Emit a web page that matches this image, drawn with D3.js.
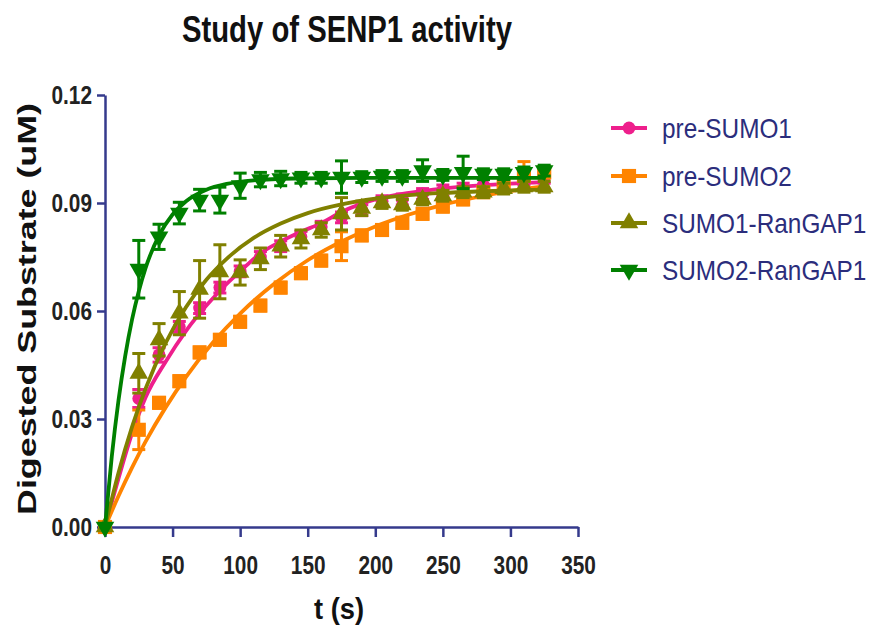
<!DOCTYPE html>
<html>
<head>
<meta charset="utf-8">
<script src="https://cdn.jsdelivr.net/npm/d3@7.9.0/dist/d3.min.js"></script>
<style>
  body { margin: 0; background: #fff; }
  svg { display: block; }
  text { font-family: "Liberation Sans", Arial, sans-serif; }
</style>
</head>
<body>
<div id="chart"></div>
<script>
// sampling times (s)
const times = [0, 25, 40, 55, 70, 85, 100, 115, 130, 145, 160, 175, 190, 205, 220, 235, 250, 265, 280, 295, 310, 325];

// measured means and error bars (uM)
const preSumo1 = [0, 0.0357, 0.0478, 0.0556, 0.0608, 0.0665, 0.071, 0.075, 0.078, 0.0806, 0.0834, 0.086, 0.088, 0.0905, 0.091, 0.0925, 0.0935, 0.094, 0.095, 0.0955, 0.0965, 0.097];
const preSumo1Err = [0, 0.0025, 0.002, 0.0015, 0.0015, 0.0015, 0.0015, 0.0015, 0.0015, 0.0015, 0.0015, 0.0015, 0.0015, 0.0015, 0.0015, 0.0015, 0.0015, 0.0015, 0.0015, 0.0015, 0.0015, 0.0015];

const preSumo2 = [0, 0.027, 0.0345, 0.0405, 0.0485, 0.052, 0.057, 0.0615, 0.0665, 0.0705, 0.074, 0.078, 0.081, 0.0825, 0.0845, 0.087, 0.089, 0.091, 0.093, 0.095, 0.0975, 0.0985];
const preSumo2Err = [0, 0.0055, 0.0015, 0.0015, 0.0015, 0.0015, 0.0015, 0.0015, 0.0015, 0.0015, 0.0015, 0.004, 0.0015, 0.0015, 0.0015, 0.0015, 0.0015, 0.0015, 0.0015, 0.0015, 0.004, 0.0015];

const sumo1RanGap = [0, 0.0427, 0.052, 0.0594, 0.066, 0.0709, 0.0707, 0.0745, 0.078, 0.08, 0.0825, 0.087, 0.0885, 0.09, 0.0895, 0.091, 0.092, 0.093, 0.093, 0.094, 0.0945, 0.0945];
const sumo1RanGapErr = [0, 0.0055, 0.0045, 0.006, 0.008, 0.0075, 0.0035, 0.003, 0.003, 0.0025, 0.002, 0.0045, 0.002, 0.0015, 0.0015, 0.0015, 0.0015, 0.0015, 0.0015, 0.0015, 0.0015, 0.0015];

const sumo2RanGap = [0, 0.0716, 0.0806, 0.0872, 0.0908, 0.0908, 0.0948, 0.0965, 0.0968, 0.097, 0.097, 0.0972, 0.0972, 0.0975, 0.0975, 0.099, 0.0978, 0.0985, 0.098, 0.098, 0.0985, 0.099];
const sumo2RanGapErr = [0, 0.008, 0.0035, 0.003, 0.003, 0.0036, 0.0035, 0.002, 0.002, 0.0015, 0.0015, 0.0045, 0.0015, 0.0015, 0.0015, 0.003, 0.0015, 0.0045, 0.0015, 0.0015, 0.0015, 0.0015];

// fitted curves
const preSumo1FitT = [0, 10, 20, 30, 45, 60, 75, 90, 100, 115, 130, 145, 160, 175, 200, 225, 250, 275, 300, 325];
const preSumo1FitV = [0, 0.0135, 0.026, 0.036, 0.046, 0.0545, 0.0615, 0.0675, 0.071, 0.076, 0.0793, 0.082, 0.0844, 0.0875, 0.091, 0.0928, 0.094, 0.0948, 0.0954, 0.0958];

const preSumo2FitT = [0, 10, 20, 30, 45, 60, 80, 100, 125, 150, 175, 200, 225, 250, 275, 300, 325];
const preSumo2FitV = [0, 0.0086, 0.0165, 0.0237, 0.0333, 0.0417, 0.0513, 0.0593, 0.0675, 0.0741, 0.0793, 0.0835, 0.0868, 0.0895, 0.0916, 0.0933, 0.0946];

const sumo1RanGapFitT = [0, 10, 20, 30, 45, 60, 75, 90, 110, 130, 150, 175, 200, 225, 250, 275, 300, 325];
const sumo1RanGapFitV = [0, 0.0151, 0.0278, 0.0384, 0.0512, 0.0611, 0.0687, 0.0745, 0.0803, 0.0843, 0.0872, 0.0896, 0.0912, 0.0922, 0.0928, 0.0932, 0.0935, 0.0937];

const sumo2RanGapFitT = [0, 5, 10, 15, 20, 25, 30, 40, 50, 60, 75, 90, 110, 140, 200, 325];
const sumo2RanGapFitV = [0, 0.0195, 0.0352, 0.0476, 0.0576, 0.0655, 0.0719, 0.081, 0.0868, 0.0905, 0.0937, 0.0953, 0.0963, 0.0968, 0.097, 0.097];

const seriesNames = ['pre-SUMO1', 'pre-SUMO2', 'SUMO1-RanGAP1', 'SUMO2-RanGAP1'];
const xTicks = [0, 50, 100, 150, 200, 250, 300, 350];
const yTicks = [0, 0.03, 0.06, 0.09, 0.12];

const colors = ['#ee1f8c', '#ff8400', '#808000', '#008000'];
const axisColor = '#353a8c';

const series = [
  { name: seriesNames[0], values: preSumo1, err: preSumo1Err, fitT: preSumo1FitT, fitV: preSumo1FitV, color: colors[0], symbol: d3.symbolCircle, size: 130, rotate: 0 },
  { name: seriesNames[1], values: preSumo2, err: preSumo2Err, fitT: preSumo2FitT, fitV: preSumo2FitV, color: colors[1], symbol: d3.symbolSquare, size: 200, rotate: 0 },
  { name: seriesNames[2], values: sumo1RanGap, err: sumo1RanGapErr, fitT: sumo1RanGapFitT, fitV: sumo1RanGapFitV, color: colors[2], symbol: d3.symbolTriangle, size: 150, rotate: 0 },
  { name: seriesNames[3], values: sumo2RanGap, err: sumo2RanGapErr, fitT: sumo2RanGapFitT, fitV: sumo2RanGapFitV, color: colors[3], symbol: d3.symbolTriangle, size: 150, rotate: 180 },
];

const width = 875, height = 627;
const plot = { left: 105, right: 578, top: 95, bottom: 527 };

const svg = d3.select('#chart').append('svg')
  .attr('width', width)
  .attr('height', height);

const x = d3.scaleLinear().domain([0, 350]).range([plot.left, plot.right]);
const y = d3.scaleLinear().domain([0, 0.12]).range([plot.bottom, plot.top]);

// squeeze text horizontally, the source picture is narrow
function squeeze(sel, k) {
  sel.each(function () {
    const w = this.getComputedTextLength();
    this.setAttribute('textLength', w * k);
    this.setAttribute('lengthAdjust', 'spacingAndGlyphs');
  });
}

// axes
const yAxis = svg.append('g')
  .attr('transform', `translate(${plot.left},0)`)
  .call(d3.axisLeft(y).tickValues(yTicks).tickFormat(d3.format('.2f')).tickSize(8).tickSizeOuter(0).tickPadding(5));

const xAxis = svg.append('g')
  .attr('transform', `translate(0,${plot.bottom})`)
  .call(d3.axisBottom(x).tickValues(xTicks).tickSize(10).tickSizeOuter(0));

[yAxis, xAxis].forEach((g) => {
  g.select('.domain').attr('stroke', axisColor).attr('stroke-width', 2.5);
  g.selectAll('.tick line').attr('stroke', axisColor).attr('stroke-width', 2.5);
  g.selectAll('.tick text')
    .attr('fill', '#222')
    .style('font-size', '26px')
    .style('font-weight', 'bold');
});
xAxis.selectAll('.tick text').attr('dy', null).attr('y', 47);
squeeze(yAxis.selectAll('.tick text'), 0.8);
squeeze(xAxis.selectAll('.tick text'), 0.8);

// titles
svg.append('text')
  .attr('x', 347).attr('y', 42)
  .attr('text-anchor', 'middle')
  .attr('fill', '#111')
  .style('font-size', '37px').style('font-weight', 'bold')
  .attr('textLength', 330).attr('lengthAdjust', 'spacingAndGlyphs')
  .text('Study of SENP1 activity');

svg.append('text')
  .attr('transform', 'translate(36,309) rotate(-90)')
  .attr('text-anchor', 'middle')
  .attr('fill', '#111')
  .style('font-size', '25px').style('font-weight', 'bold')
  .attr('textLength', 412).attr('lengthAdjust', 'spacingAndGlyphs')
  .text('Digested Substrate (uM)');

svg.append('text')
  .attr('x', 339).attr('y', 619)
  .attr('text-anchor', 'middle')
  .attr('fill', '#111')
  .style('font-size', '30px').style('font-weight', 'bold')
  .attr('textLength', 50).attr('lengthAdjust', 'spacingAndGlyphs')
  .text('t (s)');

// data
const line = d3.line()
  .x((d) => x(d[0]))
  .y((d) => y(d[1]))
  .curve(d3.curveMonotoneX);

const marks = svg.append('g').attr('class', 'marks');

series.forEach((s) => {
  const g = marks.append('g');
  g.append('path')
    .datum(s.fitT.map((t, i) => [t, s.fitV[i]]))
    .attr('d', line)
    .attr('fill', 'none')
    .attr('stroke', s.color)
    .attr('stroke-width', 3.8);

  const pts = times.map((t, i) => ({ t, v: s.values[i], e: s.err[i] }));

  const bars = g.selectAll('g.bar')
    .data(pts.filter((d) => d.e > 0))
    .join('g')
    .attr('class', 'bar')
    .attr('stroke', s.color)
    .attr('stroke-width', 3);
  bars.append('line')
    .attr('x1', (d) => x(d.t)).attr('x2', (d) => x(d.t))
    .attr('y1', (d) => y(d.v - d.e)).attr('y2', (d) => y(d.v + d.e));
  bars.append('line')
    .attr('x1', (d) => x(d.t) - 6.5).attr('x2', (d) => x(d.t) + 6.5)
    .attr('y1', (d) => y(d.v + d.e)).attr('y2', (d) => y(d.v + d.e));
  bars.append('line')
    .attr('x1', (d) => x(d.t) - 6.5).attr('x2', (d) => x(d.t) + 6.5)
    .attr('y1', (d) => y(d.v - d.e)).attr('y2', (d) => y(d.v - d.e));

  g.selectAll('path.pt')
    .data(pts)
    .join('path')
    .attr('class', 'pt')
    .attr('d', d3.symbol().type(s.symbol).size(s.size))
    .attr('transform', (d) => `translate(${x(d.t)},${y(d.v)}) rotate(${s.rotate})`)
    .attr('fill', s.color);
});

// legend
const legendRows = [128, 176, 223, 270];
const legend = svg.append('g').attr('class', 'legend');
series.forEach((s, i) => {
  const row = legend.append('g').attr('transform', `translate(0,${legendRows[i]})`);
  row.append('line')
    .attr('x1', 611).attr('x2', 647)
    .attr('stroke', s.color).attr('stroke-width', 4);
  row.append('path')
    .attr('d', d3.symbol().type(s.symbol).size(s.size))
    .attr('transform', `translate(629,0) rotate(${s.rotate})`)
    .attr('fill', s.color);
  // narrow the label with a transform so its box stays inside the page
  row.append('text')
    .attr('transform', 'translate(662,10) scale(0.87,1)')
    .attr('fill', '#2b2d7c')
    .style('font-size', '28px')
    .text(s.name);
});
</script>
</body>
</html>
